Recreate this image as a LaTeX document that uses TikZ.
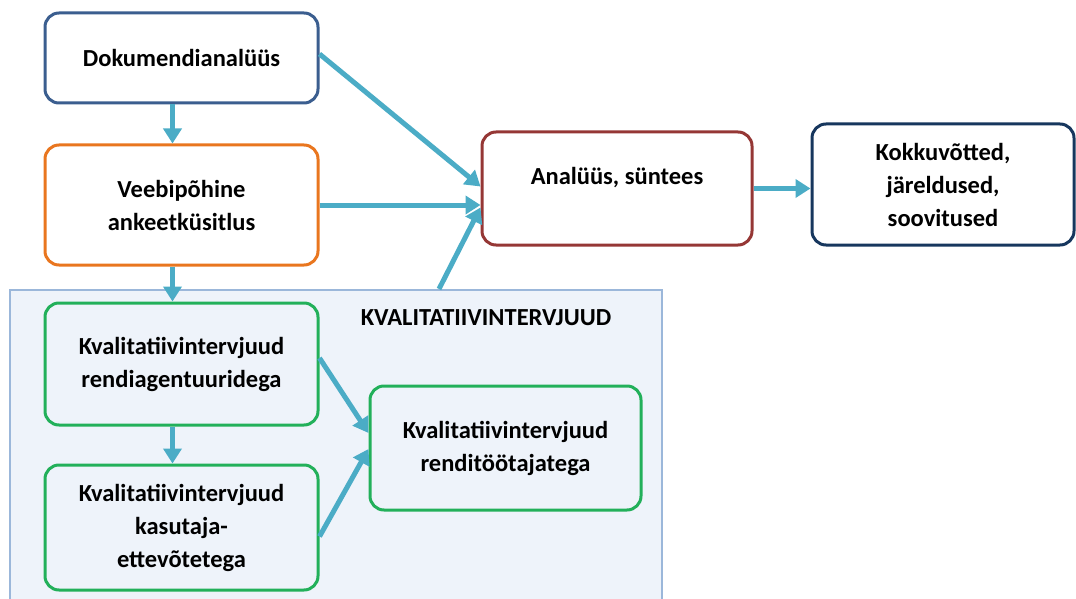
\documentclass[tikz,border=0pt]{standalone}
\usepackage{fontspec}
\setmainfont{Carlito}
\usetikzlibrary{arrows.meta,calc}

\definecolor{flowblue}{HTML}{4BACC6}
\definecolor{docblue}{HTML}{3B5E8F}
\definecolor{weborange}{HTML}{E9761F}
\definecolor{synred}{HTML}{953735}
\definecolor{sumnavy}{HTML}{17375E}
\definecolor{intgreen}{HTML}{22B05A}
\definecolor{panelfill}{HTML}{EEF3FA}
\definecolor{panelline}{HTML}{9BB7DA}

\tikzset{
  box/.style={line width=3pt, rounded corners=14pt, align=center, inner sep=0pt,
    font=\bfseries\fontsize{24.5}{33}\selectfont, minimum width=273pt},
  flow/.style={draw=flowblue, line width=5pt, -{Triangle[length=15pt,width=18pt]}},
  group/.style={draw=panelline, fill=panelfill, line width=2pt, minimum width=652pt, minimum height=315pt}
}

\begin{document}
\begin{tikzpicture}[x=1pt,y=-1pt]
\useasboundingbox (0,0) rectangle (1076,599);

% Interview panel
\node[group] (group) at (336,447.5) {};
\node[font=\bfseries\fontsize{24.5}{33}\selectfont] (grouplabel) at (486,318) {KVALITATIIVINTERVJUUD};

% Boxes
\node[box, draw=docblue, minimum height=90pt] (doc) at (181.5,58) {Dokumendianalüüs};
\node[box, draw=weborange, minimum height=120pt] (veebi) at (181.5,205) {Veebipõhine\\ankeetküsitlus};
\node[box, draw=synred, minimum width=270pt, minimum height=113pt] (analyys) at (617,188.5)
  {\raisebox{11pt}[\height][\depth]{Analüüs, süntees}};
\node[box, draw=sumnavy, minimum width=262pt, minimum height=121pt] (kokku) at (943,184.5) {Kokkuvõtted,\\järeldused,\\soovitused};
\node[box, draw=intgreen, minimum height=122pt] (rendi) at (181.5,364) {Kvalitatiivintervjuud\\rendiagentuuridega};
\node[box, draw=intgreen, minimum height=125pt] (kasutaja) at (181.5,527.5) {Kvalitatiivintervjuud\\kasutaja-\\ettevõtetega};
\node[box, draw=intgreen, minimum width=271pt, minimum height=124pt] (tootajad) at (505.5,448) {Kvalitatiivintervjuud\\renditöötajatega};

% Arrows
\coordinate (grouptop) at ($(group.north west)+(430,0)$);
\draw[flow] ($(doc.south)+(-9,0)$) -- ($(veebi.north)+(-9,0)$);
\draw[flow] ($(veebi.south)+(-9,0)$) -- ($(rendi.north)+(-9,0)$);
\draw[flow] ($(rendi.south)+(-9,0)$) -- ($(kasutaja.north)+(-9,0)$);
\draw[flow] ($(doc.east)+(0,-4)$) -- ($(analyys.west)+(0,-2)$);
\draw[flow] (veebi.east) -- (veebi.east -| analyys.west);
\draw[flow] (grouptop) -- ($(analyys.west)+(0,19)$);
\draw[flow] ($(rendi.east)+(0,-6)$) -- ($(tootajad.west)+(0,-15)$);
\draw[flow] ($(kasutaja.east)+(0,9)$) -- ($(tootajad.west)+(0,1)$);
\draw[flow] (analyys.east) -- (analyys.east -| kokku.west);

\end{tikzpicture}
\end{document}
